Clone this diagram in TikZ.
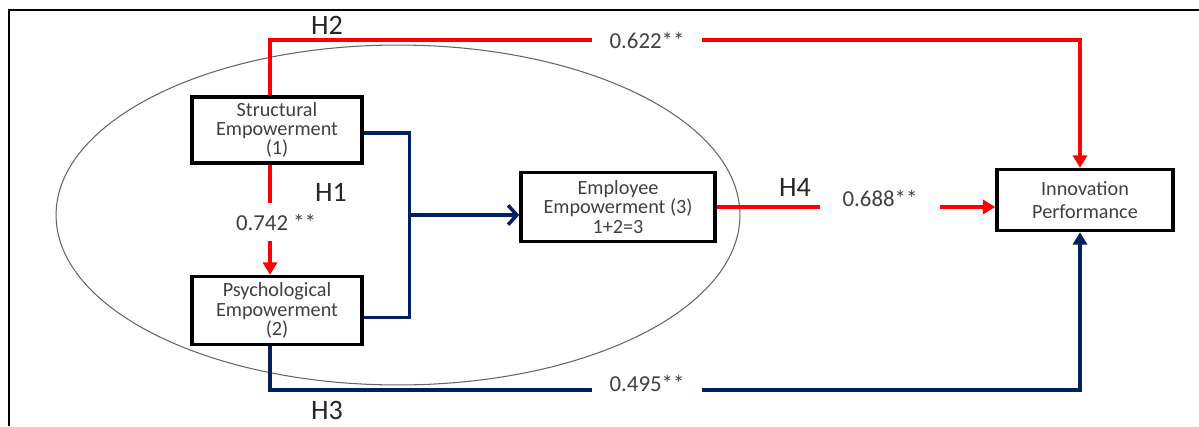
\documentclass[tikz,border=0pt]{standalone}
\usepackage{fontspec}
\setmainfont{Carlito}
\usepackage{tikz}
\usetikzlibrary{shapes,arrows.meta,positioning,calc}
\usepackage{xcolor}
\definecolor{hred}{RGB}{255,0,0}
\definecolor{hblue}{RGB}{0,32,96}
\definecolor{txtgray}{RGB}{64,64,64}

\begin{document}
\begin{tikzpicture}[
    x=0.02cm, y=-0.02cm,
    construct/.style={rectangle, draw=black, line width=2pt, fill=white, align=center, text=txtgray, font=\fontsize{11.5}{11}\selectfont, inner sep=1pt},
    redpath/.style={draw=hred, line width=2pt},
    bluepath/.style={draw=hblue, line width=2pt},
    hyp/.style={font=\fontsize{16}{16}\selectfont, text=black!85},
    coef/.style={fill=white, font=\fontsize{13}{13}\selectfont, text=txtgray, inner xsep=0.35cm, inner ysep=0.2cm}
]

\useasboundingbox (0,0) rectangle (1199,426);

% Frame and ellipse
\draw[line width=1.2pt] (9,426) -- (9,10) -- (1199,10);
\draw[black!60, line width=0.6pt] (398,215) ellipse [x radius=6.84cm, y radius=3.4cm];

% Constructs
\node (struct) [construct, minimum width=3.4cm, minimum height=1.32cm] at (277,130) {Structural\\Empowerment\\(1)};
\node (psych) [construct, minimum width=3.4cm, minimum height=1.36cm, below=2.2cm of struct] {Psychological\\Empowerment\\(2)};
\node (emp) [construct, minimum width=3.88cm, minimum height=1.38cm] at (618,207) {Employee\\Empowerment (3)\\1+2=3};
\node (innov) [construct, minimum width=3.52cm, minimum height=1.22cm] at (1085,200) {Innovation\\[2pt]Performance};

% H1
\draw[redpath, -{Triangle[length=7pt,width=8pt]}] ([xshift=-0.14cm]struct.south) -- ([xshift=-0.14cm]psych.north);
\node (c1) [coef, inner ysep=0.22cm] at (276,222) {0.742 **};
\node (h1) [hyp] at (331,192) {H1};

% H2
\draw[redpath, -{Triangle[length=7pt,width=8pt]}] ([xshift=-0.14cm]struct.north) -- ++(0,-55) -| ([xshift=-0.1cm]innov.north);
\node (c2) [coef] at (647,40) {0.622**};
\node (h2) [hyp] at (327,25) {H2};

% H3
\draw[bluepath, -{Triangle[length=7pt,width=8pt]}] ([xshift=-0.14cm]psych.south) -- ++(0,44) -| ([xshift=-0.1cm]innov.south);
\node (c3) [coef] at (647,383) {0.495**};
\node (h3) [hyp] at (327,410) {H3};

% H4
\draw[redpath, -{Triangle[length=7pt,width=8pt]}] (emp.east) -- ([yshift=-0.14cm]innov.west);
\node (c4) [coef, inner xsep=0.46cm, inner ysep=0.3cm] at (880,198) {0.688**};
\node (h4) [hyp] at (795,187) {H4};

% Combined empowerment
\coordinate (empin) at ([yshift=-0.16cm]emp.west);
\draw[bluepath] ([yshift=-0.06cm]struct.east) -- ++(0.92cm,0) coordinate (brk) |- ([yshift=-0.14cm]psych.east);
\draw[bluepath, -{Straight Barb[length=5pt,width=11pt]}] (brk |- empin) -- (empin);

\end{tikzpicture}
\end{document}
